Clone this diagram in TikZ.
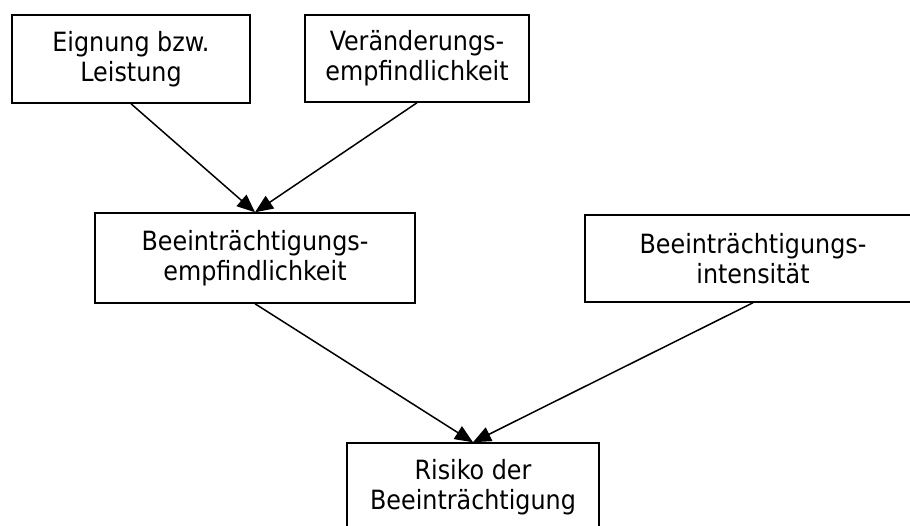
\documentclass[tikz,border=0pt]{standalone}
\usepackage{fontspec}
\setmainfont{DejaVu Sans Condensed}
\usetikzlibrary{arrows.meta}
\begin{document}
\begin{tikzpicture}[x=1pt,y=-1pt,
  box/.style={draw=black, line width=1.5pt, rectangle, align=center,
    inner sep=0pt, font=\fontsize{26.5}{30}\selectfont},
  flow/.style={draw=black, line width=1.5pt,
    -{Triangle[length=18pt,width=15pt]}}]
  \useasboundingbox (0,0) rectangle (910,525);
  \clip (0,0) rectangle (910,525);
  \fill[white] (0,0) rectangle (910,525);

  \node[box, minimum width=238pt, minimum height=88pt] (b1) at (131,59)
    {Eignung bzw.\\Leistung};
  \node[box, minimum width=224pt, minimum height=87pt] (b2) at (417,58.5)
    {Veränderungs-\\empfindlichkeit};
  \node[box, minimum width=320pt, minimum height=90pt] (b3) at (255,258)
    {Beeinträchtigungs-\\empfindlichkeit};
  \node[box, minimum width=336pt, minimum height=87pt] (b4) at (753,258.5)
    {Beeinträchtigungs-\\intensität};
  \node[box, minimum width=252pt, minimum height=88pt] (b5) at (473,487)
    {Risiko der\\Beeinträchtigung};

  \draw[flow] (b1.south) -- (b3.north);
  \draw[flow] (b2.south) -- (b3.north);
  \draw[flow] (b3.south) -- (b5.north);
  \draw[flow] (b4.south) -- (b5.north);
\end{tikzpicture}
\end{document}
